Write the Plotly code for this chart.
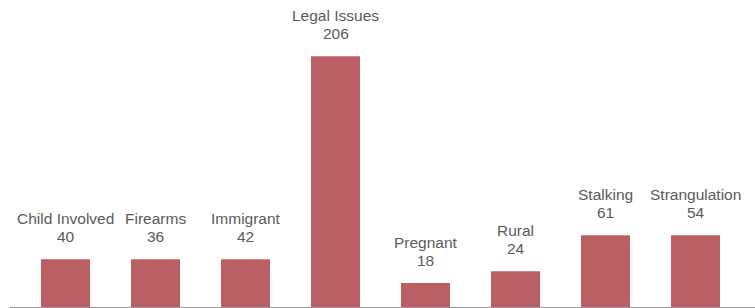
import plotly.graph_objects as go

categories = ["Child Involved", "Firearms", "Immigrant", "Legal Issues",
              "Pregnant", "Rural", "Stalking", "Strangulation"]
counts = [40, 36, 42, 206, 18, 24, 61, 54]
# bar heights as drawn in the reference (counts rounded to tens)
bar_heights = [40, 40, 40, 210, 20, 30, 60, 60]

bar_color = "#BA5F63"
text_color = "#5a5a5a"
label_font = dict(family="Liberation Sans, Arial, sans-serif", size=15.5, color=text_color)

fig = go.Figure()
fig.add_trace(go.Bar(
    x=categories, y=bar_heights, marker_color=bar_color,
    marker_line_width=0, width=0.545, hoverinfo="skip",
))

for cat, cnt, h in zip(categories, counts, bar_heights):
    fig.add_annotation(x=cat, y=h, text=str(cnt), showarrow=False,
                       yanchor="bottom", yshift=12, font=label_font)
    fig.add_annotation(x=cat, y=h, text=cat, showarrow=False,
                       yanchor="bottom", yshift=30, font=label_font)

fig.update_layout(
    width=755, height=308,
    margin=dict(l=10, r=0, t=0, b=1),
    paper_bgcolor="white", plot_bgcolor="white",
    showlegend=False,
    xaxis=dict(range=[-0.6167, 7.661], showticklabels=False, ticks="",
               showline=True, linecolor="#999999", linewidth=1,
               showgrid=False, zeroline=False, fixedrange=True),
    yaxis=dict(range=[0, 257], visible=False, showgrid=False, zeroline=False),
)

fig.write_html("out.html", config={"displayModeBar": False},
               post_script="document.body.style.margin='0';document.body.style.overflow='hidden';")
